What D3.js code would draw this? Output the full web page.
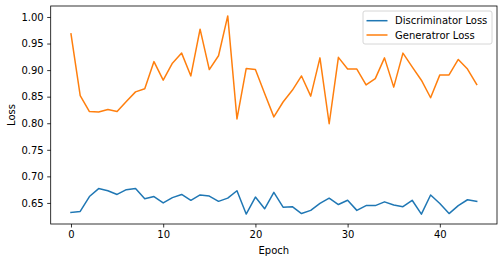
<!DOCTYPE html>
<html>
<head>
<meta charset="utf-8">
<script src="https://cdn.jsdelivr.net/npm/d3@7"></script>
<style>
html,body{margin:0;padding:0;background:#fff;}
svg{display:block;}
text{font-family:"DejaVu Sans",sans-serif;}
</style>
</head>
<body>
<svg id="chart" width="504" height="262"></svg>
<script>
const epochs = d3.range(0, 45);
const discLoss = [0.632,0.634,0.662,0.677,0.673,0.666,0.675,0.677,0.658,0.662,
  0.650,0.660,0.666,0.655,0.665,0.663,0.653,0.659,0.673,0.629,
  0.661,0.639,0.670,0.642,0.643,0.630,0.636,0.649,0.659,0.647,
  0.655,0.636,0.645,0.645,0.652,0.646,0.643,0.655,0.629,0.665,
  0.649,0.630,0.645,0.656,0.653];
const genLoss = [0.968,0.852,0.822,0.821,0.826,0.822,0.841,0.859,0.865,0.916,
  0.881,0.913,0.932,0.889,0.977,0.901,0.927,1.002,0.808,0.903,
  0.901,0.856,0.812,0.840,0.862,0.889,0.851,0.923,0.799,0.924,
  0.902,0.902,0.872,0.884,0.923,0.868,0.932,0.906,0.881,0.848,
  0.891,0.891,0.920,0.902,0.873];
const seriesNames = ["Discriminator Loss", "Generatror Loss"];
const seriesColors = ["#1f77b4", "#ff7f0e"];
const xTicks = [0, 10, 20, 30, 40];
const yTicks = [0.65, 0.70, 0.75, 0.80, 0.85, 0.90, 0.95, 1.00];

const svg = d3.select("#chart");
const pL = 50.7, pR = 497, pT = 6, pB = 224;

const allVals = discLoss.concat(genLoss);
const yMin = d3.min(allVals), yMax = d3.max(allVals);
const yPad = (yMax - yMin) * 0.05;
const xPad = 44 * 0.05;
const x = d3.scaleLinear().domain([0 - xPad, 44 + xPad]).range([pL, pR]);
const y = d3.scaleLinear().domain([yMin - yPad, yMax + yPad]).range([pB, pT]);

const xAxis = d3.axisBottom(x).tickValues(xTicks).tickSize(3.5).tickPadding(3.5).tickFormat(d3.format("d"));
const yAxis = d3.axisLeft(y).tickValues(yTicks).tickSize(3.5).tickPadding(3.5).tickFormat(d3.format(".2f"));

const gx = svg.append("g").attr("transform", `translate(0,${pB})`).call(xAxis);
const gy = svg.append("g").attr("transform", `translate(${pL},0)`).call(yAxis);
[gx, gy].forEach(g => {
  g.select(".domain").remove();
  g.selectAll(".tick line").attr("stroke", "#000").attr("stroke-width", 0.8);
  g.selectAll(".tick text").attr("fill", "#000").style("font-size", "10px").style("font-family", "DejaVu Sans");
});

const line = d3.line().x((d, i) => x(epochs[i])).y(d => y(d));
[discLoss, genLoss].forEach((s, k) => {
  svg.append("path").datum(s).attr("d", line)
    .attr("fill", "none").attr("stroke", seriesColors[k]).attr("stroke-width", 1.5)
    .attr("stroke-linejoin", "round").attr("stroke-linecap", "square");
});

svg.append("rect").attr("x", pL).attr("y", pT).attr("width", pR - pL).attr("height", pB - pT)
  .attr("fill", "none").attr("stroke", "#000").attr("stroke-width", 0.8);

svg.append("text").attr("x", (pL + pR) / 2).attr("y", 254).attr("text-anchor", "middle")
  .style("font-size", "10px").attr("fill", "#000").text("Epoch");
svg.append("text").attr("transform", `translate(15,${(pT + pB) / 2}) rotate(-90)`)
  .attr("text-anchor", "middle").style("font-size", "10px").attr("fill", "#000").text("Loss");

const lg = svg.append("g");
lg.append("rect").attr("x", 363).attr("y", 11).attr("width", 129).attr("height", 33).attr("rx", 2)
  .attr("fill", "#fff").attr("fill-opacity", 0.8).attr("stroke", "#ccc").attr("stroke-width", 0.8);
seriesNames.forEach((n, k) => {
  const yy = 20.7 + k * 14.3;
  lg.append("line").attr("x1", 366.5).attr("x2", 387.5).attr("y1", yy).attr("y2", yy)
    .attr("stroke", seriesColors[k]).attr("stroke-width", 1.5);
  lg.append("text").attr("x", 395).attr("y", yy).attr("dy", "0.35em")
    .style("font-size", "10px").attr("fill", "#000").text(n);
});
</script>
</body>
</html>
